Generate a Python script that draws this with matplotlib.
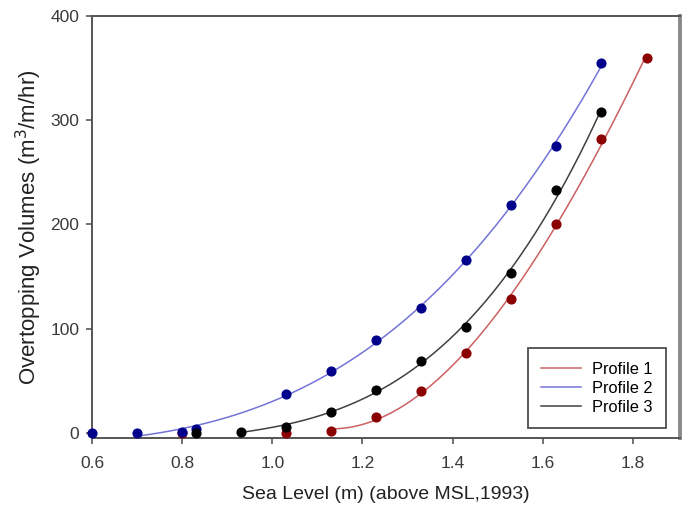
import numpy as np
import matplotlib
matplotlib.use("Agg")
import matplotlib.pyplot as plt

plt.rcParams['font.family'] = ['Liberation Sans', 'DejaVu Sans']

# Profile 1 (red)
p1_x = [0.80, 1.03, 1.13, 1.23, 1.33, 1.43, 1.53, 1.63, 1.73, 1.83]
p1_y = [0, 0, 2, 15, 40, 77, 128, 200, 282, 360]
# Profile 2 (blue)
p2_x = [0.60, 0.70, 0.80, 0.83, 1.03, 1.13, 1.23, 1.33, 1.43, 1.53, 1.63, 1.73]
p2_y = [0, 0, 1, 4, 37, 59, 89, 120, 166, 219, 275, 355]
# Profile 3 (black)
p3_x = [0.83, 0.93, 1.03, 1.13, 1.23, 1.33, 1.43, 1.53, 1.63, 1.73]
p3_y = [0, 1, 6, 20, 41, 69, 102, 153, 233, 308]

# fit ranges (x start/end of drawn regression curve)
fit_ranges = {'Profile 1': (1.13, 1.83), 'Profile 2': (0.70, 1.73), 'Profile 3': (0.93, 1.73)}

x_ticks = [0.6, 0.8, 1.0, 1.2, 1.4, 1.6, 1.8]
y_ticks = [0, 100, 200, 300, 400]

fig = plt.figure(figsize=(6.88, 5.08), dpi=100)
ax = fig.add_axes([0.1337, 0.1378, 0.8545, 0.8307])

series = [
    ('Profile 1', p1_x, p1_y, '#8b0000', '#cc6060'),
    ('Profile 2', p2_x, p2_y, '#00008b', '#7474d8'),
    ('Profile 3', p3_x, p3_y, '#000000', '#404040'),
]

for name, xs, ys, mc, lc in series:
    xs = np.array(xs); ys = np.array(ys)
    lo, hi = fit_ranges[name]
    m = (xs >= lo - 1e-9) & (xs <= hi + 1e-9)
    coef = np.polyfit(xs[m], ys[m], 3)
    xx = np.linspace(lo, hi, 200)
    ax.plot(xx, np.polyval(coef, xx), color=lc, lw=1.1, label=name, zorder=2)

for name, xs, ys, mc, lc in series:
    ax.plot(xs, ys, 'o', color=mc, ms=6.3, mec=mc, zorder=3, clip_on=False)

ax.set_xlim(0.6, 1.904)
ax.set_ylim(-5, 400)
ax.set_xticks(x_ticks)
ax.set_xticklabels([f"{t:.1f}" for t in x_ticks])
ax.set_yticks(y_ticks)
ax.tick_params(axis='both', direction='out', length=4, width=1.3, colors='#666666',
               labelsize=12.5, labelcolor='#3a3a3a')
ax.tick_params(axis='x', pad=9)
ax.tick_params(axis='y', pad=5)

for s in ['left', 'bottom', 'top']:
    ax.spines[s].set_color('#555555')
    ax.spines[s].set_linewidth(1.4)
ax.spines['right'].set_color('#8a8a8a')
ax.spines['right'].set_linewidth(2.8)

ax.set_xlabel('Sea Level (m) (above MSL,1993)', fontsize=14, color='#222222', labelpad=11)
ax.set_ylabel('Overtopping Volumes (m$^3$/m/hr)', fontsize=16, color='#222222', labelpad=5)

leg = ax.legend(loc='lower right', bbox_to_anchor=(0.976, 0.024), borderaxespad=0,
                fontsize=11.8, frameon=True, fancybox=False, edgecolor='#222222',
                handlelength=2.4, borderpad=0.8, labelspacing=0.25, handletextpad=0.7)
leg.get_frame().set_linewidth(1.3)

fig.savefig('out.png', dpi=100)
